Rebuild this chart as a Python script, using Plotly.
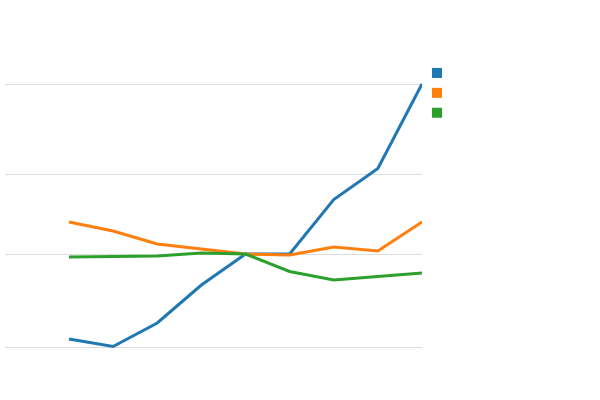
import plotly.graph_objects as go

periods = list(range(9))
series_a = [57.5, 53.75, 65.5, 84.5, 100, 100, 127.25, 142.75, 185]
series_b = [116, 111.5, 105, 102.5, 100, 99.5, 103.5, 101.5, 116]
series_c = [98.5, 98.75, 99, 100.5, 100, 91.25, 87, 88.75, 90.5]
grid_values = [53.5, 100, 140, 185]
colors = ["#1f77b4", "#ff7f0e", "#2ca02c"]

fig = go.Figure()
for ys, c in zip([series_a, series_b, series_c], colors):
    fig.add_trace(go.Scatter(x=periods, y=ys, mode="lines",
                             line=dict(color=c, width=3), showlegend=False,
                             hoverinfo="skip"))
for c in colors:
    fig.add_trace(go.Scatter(x=[None], y=[None], mode="markers", name="",
                             marker=dict(symbol="square", size=10, color=c),
                             showlegend=True))

fig.update_layout(
    width=600, height=400,
    margin=dict(l=5, r=178, t=60, b=20),
    plot_bgcolor="white", paper_bgcolor="white",
    xaxis=dict(range=[-1.45, 8], showgrid=False, zeroline=False,
               showticklabels=False, showline=False, ticks=""),
    yaxis=dict(range=[37, 197], tickvals=grid_values, showticklabels=False,
               showgrid=True, gridcolor="#dddddd", gridwidth=1,
               zeroline=False, showline=False, ticks=""),
    legend=dict(x=0.988, y=1.00625,
                xanchor="left", yanchor="top", bgcolor="rgba(0,0,0,0)",
                tracegroupgap=0, font=dict(size=13)),
    showlegend=True,
)

fig.write_html("out.html", config={"displayModeBar": False},
               post_script="document.body.style.margin='0';")
